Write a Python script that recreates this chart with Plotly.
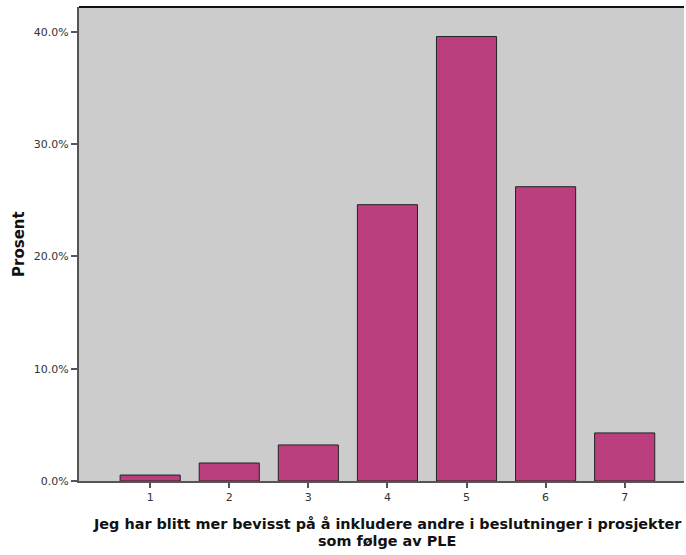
import plotly.graph_objects as go

categories = [1, 2, 3, 4, 5, 6, 7]
percent = [0.53, 1.60, 3.21, 24.60, 39.57, 26.20, 4.28]
y_ticks = [0, 10, 20, 30, 40]
x_title_lines = ["Jeg har blitt mer bevisst på å inkludere andre i beslutninger i prosjekter",
                 "som følge av PLE"]
y_title = "Prosent"

fig = go.Figure(go.Bar(
    x=categories, y=percent, width=0.76,
    marker=dict(color="#BB3F7E", line=dict(color="#222222", width=1)),
))

fig.update_layout(
    width=686, height=555,
    margin=dict(l=79, r=2, t=7, b=74),
    paper_bgcolor="white", plot_bgcolor="#CCCCCC",
    font=dict(family="DejaVu Sans, sans-serif", size=11, color="#333333"),
    showlegend=False,
)
fig.update_xaxes(
    range=[0.1, 7.75], tickvals=categories, ticktext=[str(c) for c in categories],
    ticks="outside", ticklen=5, tickcolor="#555555", tickwidth=2,
    showline=True, linecolor="#555555", linewidth=2,
    showgrid=False, zeroline=False, automargin=False,
)
fig.update_yaxes(
    range=[0, 42.2], tickvals=y_ticks, ticktext=[f"{v:.1f}%" for v in y_ticks],
    ticks="outside", ticklen=6, tickcolor="#555555", tickwidth=2,
    showline=True, linecolor="#555555", linewidth=2,
    showgrid=False, zeroline=False, automargin=False,
)
fig.add_shape(type="line", xref="paper", yref="paper", x0=0, x1=1, y0=1, y1=1,
              line=dict(color="#111111", width=2))
for line_text, ypos in zip(x_title_lines, [-0.0907, -0.1266]):
    fig.add_annotation(text=f"<b>{line_text}</b>", xref="paper", yref="paper",
                       x=0.5094, y=ypos, yanchor="middle", showarrow=False,
                       font=dict(size=14.4, color="#111111"))
fig.add_annotation(text=f"<b>{y_title}</b>", xref="paper", yref="paper",
                   x=-0.0992, xanchor="center", y=0.5, textangle=-90, showarrow=False,
                   font=dict(size=15, color="#111111"))

fig.write_html("out.html", config={"displayModeBar": False},
               post_script="document.body.style.margin='0';")
